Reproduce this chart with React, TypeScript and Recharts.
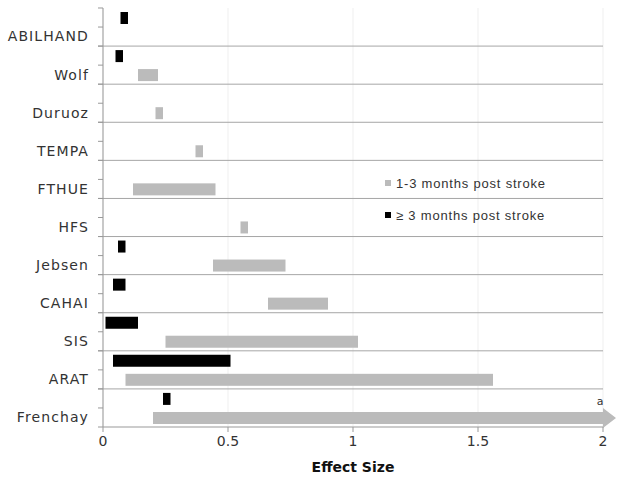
import React from "react";
import { BarChart, Bar, XAxis, YAxis, CartesianGrid, Legend } from "recharts";

const measures = ["ABILHAND", "Wolf", "Duruoz", "TEMPA", "FTHUE", "HFS", "Jebsen", "CAHAI", "SIS", "ARAT", "Frenchay"];
// >= 3 months post stroke (black)
const chronicLow = [0.07, 0.05, null, null, null, null, 0.06, 0.04, 0.01, 0.04, 0.24];
const chronicHigh = [0.1, 0.08, null, null, null, null, 0.09, 0.09, 0.14, 0.51, 0.27];
// 1-3 months post stroke (gray)
const subacuteLow = [null, 0.14, 0.21, 0.37, 0.12, 0.55, 0.44, 0.66, 0.25, 0.09, 0.2];
const subacuteHigh = [null, 0.22, 0.24, 0.4, 0.45, 0.58, 0.73, 0.9, 1.02, 1.56, 2];
const subacuteBeyond = [false, false, false, false, false, false, false, false, false, false, true];
const xTicks = [0, 0.5, 1, 1.5, 2];
const SUBACUTE_NAME = "1-3 months post stroke";
const CHRONIC_NAME = "≥ 3 months post stroke";
const legendOrder = [SUBACUTE_NAME, CHRONIC_NAME];

const GRAY = "#bbbbbb";
const AXIS_X = 103;
const HALF_ROW = 19.05;

const data = measures.map((name, i) => ({
  name,
  chronic: chronicLow[i] == null ? null : [chronicLow[i], chronicHigh[i]],
  subacute: subacuteLow[i] == null ? null : [subacuteLow[i], subacuteHigh[i]],
  beyond: subacuteBeyond[i],
}));

const MeasureTick = (props: any) => {
  const { x, y, payload } = props;
  return (
    <g>
      <text x={x + 1} y={y + 9.5} dy="0.35em" textAnchor="end" fill="#333" fontSize={14}
        fontFamily="DejaVu Sans" letterSpacing={1.1}>
        {payload.value}
      </text>
      <line x1={AXIS_X - 5} x2={AXIS_X} y1={y - HALF_ROW} y2={y - HALF_ROW} stroke="#999" />
      <line x1={AXIS_X - 5} x2={AXIS_X} y1={y} y2={y} stroke="#999" />
      <line x1={AXIS_X - 5} x2={AXIS_X} y1={y + HALF_ROW} y2={y + HALF_ROW} stroke="#999" />
    </g>
  );
};

const SubacuteShape = (props: any) => {
  const { x, y, width, height, fill, payload } = props;
  if (!payload.beyond) return <rect x={x} y={y} width={width} height={height} fill={fill} />;
  const end = x + width;
  const pts = [
    [x, y], [end, y], [end, y - 4], [end + 13, y + height / 2],
    [end, y + height + 4], [end, y + height], [x, y + height],
  ].map((p) => p.join(",")).join(" ");
  return (
    <g>
      <polygon points={pts} fill={fill} />
      <text x={end - 3} y={y - 7} textAnchor="middle" fontSize={11} fill="#333" fontFamily="DejaVu Sans">a</text>
    </g>
  );
};

const renderLegend = (props: any) => {
  const items = [...(props.payload || [])].sort(
    (a: any, b: any) => legendOrder.indexOf(a.value) - legendOrder.indexOf(b.value));
  return (
    <div style={{ fontFamily: "Liberation Sans", fontSize: 13, color: "#333", letterSpacing: 0.8 }}>
      {items.map((it: any) => (
        <div key={it.value} style={{ height: 18, marginBottom: 14, display: "flex", alignItems: "center" }}>
          <span style={{ width: 6, height: 6, background: it.color, marginRight: 5, display: "inline-block" }} />
          <span>{it.value}</span>
        </div>
      ))}
    </div>
  );
};

export default function App() {
  return (
    <div style={{ position: "absolute", left: 0, top: 0 }}>
      <BarChart width={624} height={483} data={data} layout="vertical" barSize={12} barGap={7}
        margin={{ top: 8, right: 21, left: 0, bottom: 0 }}>
        <CartesianGrid horizontal={false} stroke="#efefef" />
        <CartesianGrid vertical={false} stroke="#a6a6a6"
          horizontalCoordinatesGenerator={({ offset }: any) =>
            measures.slice(1).map((_, i) => offset.top + ((i + 1) * offset.height) / measures.length)} />
        <XAxis type="number" domain={[0, 2]} ticks={xTicks} height={56} stroke="#999" tickSize={5}
          tick={{ fill: "#333", fontSize: 14, fontFamily: "DejaVu Sans" }} tickMargin={4}
          label={{ value: "Effect Size", position: "insideBottom", offset: 11, fill: "#111",
            fontSize: 14, fontWeight: "bold", fontFamily: "DejaVu Sans" }} />
        <YAxis type="category" dataKey="name" width={103} stroke="#999" tickLine={false}
          tickSize={5} tickMargin={10} interval={0} tick={<MeasureTick />} />
        <Legend layout="vertical" align="center" verticalAlign="middle" content={renderLegend}
          wrapperStyle={{ left: 385, top: 174, width: 220 }} />
        <Bar dataKey="chronic" name={CHRONIC_NAME} fill="#000" isAnimationActive={false} />
        <Bar dataKey="subacute" name={SUBACUTE_NAME} fill={GRAY} isAnimationActive={false}
          shape={<SubacuteShape />} />
      </BarChart>
    </div>
  );
}
